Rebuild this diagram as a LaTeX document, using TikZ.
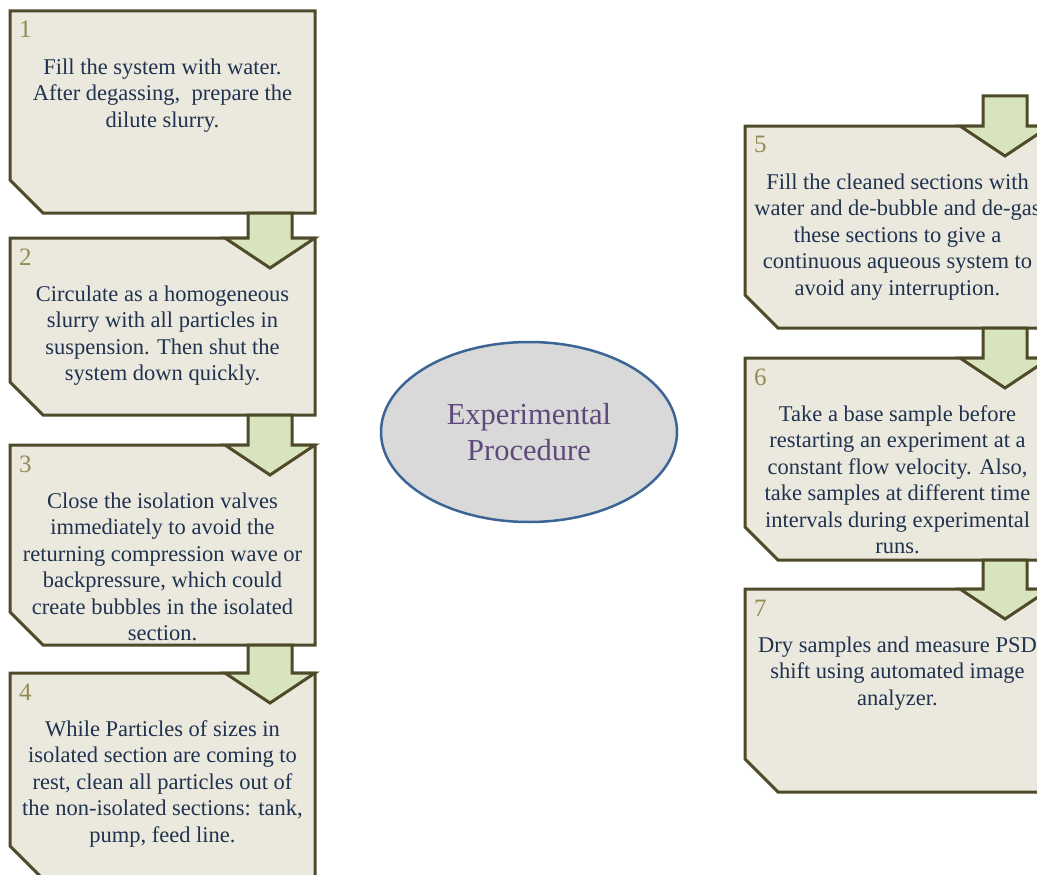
\documentclass[tikz,border=0pt]{standalone}
\usepackage{fontspec}
\setmainfont{Liberation Serif}
\usetikzlibrary{shapes.geometric}

\definecolor{boxfill}{HTML}{EBE9DE}
\definecolor{boxedge}{HTML}{4F4A2A}
\definecolor{arrowfill}{HTML}{D7E4BD}
\definecolor{numcol}{HTML}{948A54}
\definecolor{txtcol}{HTML}{1F324F}
\definecolor{ovalfill}{HTML}{D9D9D9}
\definecolor{ovaledge}{HTML}{3C6595}
\definecolor{ovaltext}{HTML}{5F497A}

\tikzset{
  stepbox/.style={rectangle, draw=none, minimum width=305pt, minimum height=#1,
    inner sep=0pt, outer sep=0pt, anchor=north west},
  boxline/.style={draw=boxedge, fill=boxfill, line width=3pt, line join=miter},
  arrowline/.style={draw=boxedge, fill=arrowfill, line width=3pt, line join=miter},
  steptext/.style={anchor=north, inner sep=0pt, align=center, text=txtcol,
    font=\fontsize{22.5}{26.5}\selectfont},
  stepnum/.style={anchor=base west, inner sep=0pt, text=numcol,
    font=\fontsize{25}{28}\selectfont},
  oval/.style={ellipse, draw=ovaledge, fill=ovalfill, line width=2.5pt,
    minimum width=296pt, minimum height=180pt, inner sep=0pt, align=center,
    text=ovaltext, font=\fontsize{30.5}{36}\selectfont}
}

% step box with a cut lower-left corner: name, position, height, number, text
\newcommand\stepshape[5]{%
  \node[stepbox=#3] (#1) at #2 {};
  \path[boxline] (#1.north west) -- (#1.north east) -- (#1.south east)
    -- ([xshift=33pt]#1.south west) -- ([yshift=33pt]#1.south west) -- cycle;
  \node[stepnum] (#1num) at ([xshift=9pt,yshift=-27pt]#1.north west) {#4};
  \node[steptext] (#1txt) at ([yshift=-47pt]#1.north) {\rule{0pt}{16pt}#5};
}

% block arrow from the bottom of one step into the top of the next
\newcommand\flowarrow[2]{%
  \path[arrowline] ([xshift=-67pt]#1) -- ([xshift=-67pt]#2.north east)
    -- ([xshift=-90pt]#2.north east) -- ([xshift=-45pt,yshift=-30pt]#2.north east)
    -- (#2.north east) -- ([xshift=-23pt]#2.north east)
    -- ([xshift=-23pt]#1) -- cycle;
}

\begin{document}
\begin{tikzpicture}[x=1pt,y=-1pt]
  \useasboundingbox (0,0) rectangle (1037,875);
  \clip (0,0) rectangle (1037,875);
  \fill[white] (0,0) rectangle (1037,875);

  % left column
  \stepshape{b1}{(10,11)}{202pt}{1}{Fill the system with water.\\After degassing,\ \ prepare the\\dilute slurry.}
  \stepshape{b2}{(10,238)}{177pt}{2}{Circulate as a homogeneous\\slurry with all particles in\\suspension. Then shut the\\system down quickly.}
  \flowarrow{b1.south east}{b2}
  \stepshape{b3}{(10,445)}{200pt}{3}{Close the isolation valves\\immediately to avoid the\\returning compression wave or\\backpressure, which could\\create bubbles in the isolated\\section.}
  \flowarrow{b2.south east}{b3}
  \stepshape{b4}{(10,673)}{206pt}{4}{While Particles of sizes in\\isolated section are coming to\\rest, clean all particles out of\\the non-isolated sections: tank,\\pump, feed line.}
  \flowarrow{b3.south east}{b4}

  % right column
  \coordinate (feed) at (1050,96);
  \stepshape{b5}{(745,126)}{202pt}{5}{Fill the cleaned sections with\\water and de-bubble and de-gas\\these sections to give a\\continuous aqueous system to\\avoid any interruption.}
  \flowarrow{feed}{b5}
  \stepshape{b6}{(745,358)}{202pt}{6}{Take a base sample before\\restarting an experiment at a\\constant\ flow velocity. Also,\\take samples at different time\\intervals during experimental\\runs.}
  \flowarrow{b5.south east}{b6}
  \stepshape{b7}{(745,589)}{203pt}{7}{Dry samples and measure PSD\\shift using automated image\\analyzer.}
  \flowarrow{b6.south east}{b7}

  % title
  \node[oval] (title) at (529,432) {Experimental\\Procedure};
\end{tikzpicture}
\end{document}
